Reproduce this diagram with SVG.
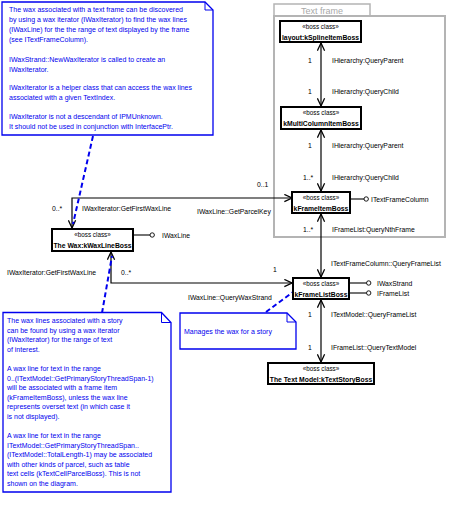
<svg xmlns="http://www.w3.org/2000/svg" width="462" height="511" viewBox="0 0 462 511">
<defs>
<style>
.bg{fill:#ffffff}
.box{fill:#ffffff;stroke:#000;stroke-width:2}
.st{font-family:"Liberation Sans",Arial,sans-serif;font-size:6.3px;fill:#000;text-anchor:middle}
.nm{font-family:"Liberation Sans",Arial,sans-serif;font-size:6.8px;font-weight:bold;fill:#000;text-anchor:middle}
.lb{font-family:"Liberation Sans",Arial,sans-serif;font-size:6.8px;fill:#000}
.nt{font-family:"Liberation Sans",Arial,sans-serif;font-size:7px;fill:#0000ee}
.note{fill:#ffffff;stroke:#0000ee;stroke-width:1.3}
.fold{fill:none;stroke:#0000ee;stroke-width:1}
.con{fill:none;stroke:#000;stroke-width:1.2;marker-start:url(#arr);marker-end:url(#arr)}
.lol{fill:none;stroke:#000;stroke-width:1.1}
.cir{fill:#ffffff;stroke:#000;stroke-width:0.9}
.anc{fill:none;stroke:#0000ee;stroke-width:2;stroke-dasharray:5,3}
.frame{fill:none;stroke:#b4b4b4;stroke-width:2}
.ftxt{font-family:"Liberation Sans",Arial,sans-serif;font-size:9px;fill:#a8a8a8;text-anchor:middle}
</style>
<marker id="arr" viewBox="0 0 10 10" refX="9.5" refY="5" markerWidth="9" markerHeight="9" markerUnits="userSpaceOnUse" orient="auto-start-reverse">
<path d="M1,1 L9.5,5 L1,9" fill="none" stroke="#000" stroke-width="1.4"/>
</marker>
</defs>
<rect class="bg" x="0" y="0" width="462" height="511"/>

<g id="textframe">
<rect x="274" y="4" width="96" height="12" fill="#fff" stroke="#b4b4b4" stroke-width="1.5"/>
<text class="ftxt" x="322" y="14">Text frame</text>
<rect class="frame" x="274" y="16" width="171" height="221"/>
</g>

<g id="connectors">
<line class="con" x1="321" y1="43" x2="321" y2="106"/>
<line class="con" x1="321" y1="130" x2="321" y2="191"/>
<line class="con" x1="321" y1="214" x2="321" y2="277"/>
<line class="con" x1="321" y1="300" x2="321" y2="362"/>
<polyline class="con" points="72,228 72,198 292,198"/>
<polyline class="con" points="111,252 111,283 292,283"/>
<line class="anc" x1="93" y1="136" x2="73" y2="224"/>
<line class="anc" x1="102" y1="313" x2="112" y2="256"/>
<line class="anc" x1="266" y1="312" x2="293" y2="292"/>
</g>

<g id="labels">
<text class="lb" x="308" y="62.5">1</text>
<text class="lb" x="332" y="62.5">IHierarchy:QueryParent</text>
<text class="lb" x="308" y="93.5">1</text>
<text class="lb" x="332" y="93.5">IHierarchy:QueryChild</text>
<text class="lb" x="308" y="147.5">1</text>
<text class="lb" x="332" y="147.5">IHierarchy:QueryParent</text>
<text class="lb" x="303" y="179.5">1..*</text>
<text class="lb" x="332" y="179.5">IHierarchy:QueryChild</text>
<text class="lb" x="303" y="231.5">1..*</text>
<text class="lb" x="332" y="231.5">IFrameList:QueryNthFrame</text>
<text class="lb" x="257" y="186.5">0..1</text>
<text class="lb" x="197" y="214">IWaxLine::GetParcelKey</text>
<text class="lb" x="52" y="210.5">0..*</text>
<text class="lb" x="82" y="210.5">IWaxIterator:GetFirstWaxLine</text>
<text class="lb" x="7" y="274.5">IWaxIterator:GetFirstWaxLine</text>
<text class="lb" x="121" y="274.5">0..*</text>
<text class="lb" x="273" y="271.5">1</text>
<text class="lb" x="188" y="299.5">IWaxLine::QueryWaxStrand</text>
<text class="lb" x="331" y="265.5">ITextFrameColumn::QueryFrameList</text>
<text class="lb" x="308" y="316.5">1</text>
<text class="lb" x="331" y="316.5">ITextModel::QueryFrameList</text>
<text class="lb" x="308" y="349.5">1</text>
<text class="lb" x="331" y="349.5">IFrameList::QueryTextModel</text>
</g>

<g id="kSplineItemBoss">
<rect class="box" x="280" y="21" width="81" height="21"/>
<text class="st" x="320.5" y="29">«boss class»</text>
<text class="nm" x="320.5" y="39.5">layout:kSplineItemBoss</text>
</g>

<g id="kMultiColumnItemBoss">
<rect class="box" x="281" y="107" width="80" height="22"/>
<text class="st" x="321" y="115">«boss class»</text>
<text class="nm" x="321" y="126">kMultiColumnItemBoss</text>
</g>

<g id="kFrameItemBoss">
<rect class="box" x="292" y="192" width="58" height="21"/>
<text class="st" x="321" y="200">«boss class»</text>
<text class="nm" x="321" y="210.5">kFrameItemBoss</text>
<line class="lol" x1="350" y1="199" x2="364" y2="199"/>
<circle class="cir" cx="366.2" cy="199" r="2.2"/>
<text class="lb" x="371" y="201.5">ITextFrameColumn</text>
</g>

<g id="kWaxLineBoss">
<rect class="box" x="52" y="229" width="81" height="22"/>
<text class="st" x="92.5" y="237">«boss class»</text>
<text class="nm" x="92.5" y="248">The Wax:kWaxLineBoss</text>
<line class="lol" x1="133" y1="235" x2="150" y2="235"/>
<circle class="cir" cx="152.2" cy="235" r="2.2"/>
<text class="lb" x="162" y="237.5">IWaxLine</text>
</g>

<g id="kFrameListBoss">
<rect class="box" x="293" y="278" width="56" height="21"/>
<text class="st" x="321" y="286">«boss class»</text>
<text class="nm" x="321" y="296.5">kFrameListBoss</text>
<line class="lol" x1="349" y1="283" x2="366.5" y2="283"/>
<circle class="cir" cx="368.7" cy="283" r="2.2"/>
<text class="lb" x="377" y="285.5">IWaxStrand</text>
<line class="lol" x1="349" y1="293" x2="366.5" y2="293"/>
<circle class="cir" cx="368.7" cy="293" r="2.2"/>
<text class="lb" x="377" y="295.5">IFrameList</text>
</g>

<g id="kTextStoryBoss">
<rect class="box" x="268" y="363" width="106" height="21"/>
<text class="st" x="321" y="371">«boss class»</text>
<text class="nm" x="321" y="381.5">The Text Model:kTextStoryBoss</text>
</g>

<g id="note1">
<path class="note" d="M2,2 H205 L213,10 V135 H2 Z"/>
<path class="fold" d="M205,2 V10 H213"/>
<text class="nt" x="9" y="12">The wax associated with a text frame can be discovered</text>
<text class="nt" x="9" y="22">by using a wax iterator (IWaxIterator) to find the wax lines</text>
<text class="nt" x="9" y="32">(IWaxLine) for the the range of text displayed by the frame</text>
<text class="nt" x="9" y="42">(see ITextFrameColumn).</text>
<text class="nt" x="9" y="62">IWaxStrand::NewWaxIterator is called to create an</text>
<text class="nt" x="9" y="72">IWaxIterator.</text>
<text class="nt" x="9" y="90">IWaxIterator is a helper class that can access the wax lines</text>
<text class="nt" x="9" y="100">associated with a given TextIndex.</text>
<text class="nt" x="9" y="119">IWaxIterator is not a descendant of IPMUnknown.</text>
<text class="nt" x="9" y="129">It should not be used in conjunction with InterfacePtr.</text>
</g>

<g id="note2">
<path class="note" d="M3,312.5 H161.5 L171,322.5 V492 H3 Z"/>
<path class="fold" d="M161.5,312.5 V322.5 H171"/>
<text class="nt" x="7" y="323">The wax lines associated with a story</text>
<text class="nt" x="7" y="332.5">can be found by using a wax iterator</text>
<text class="nt" x="7" y="342">(IWaxIterator) for the range of text</text>
<text class="nt" x="7" y="351.5">of interest.</text>
<text class="nt" x="7" y="371">A wax line for text in the range</text>
<text class="nt" x="7" y="380.5">0..(ITextModel::GetPrimaryStoryThreadSpan-1)</text>
<text class="nt" x="7" y="390">will be associated with a frame item</text>
<text class="nt" x="7" y="399.5">(kFrameItemBoss), unless the wax line</text>
<text class="nt" x="7" y="409">represents overset text (in which case it</text>
<text class="nt" x="7" y="418.5">is not displayed).</text>
<text class="nt" x="7" y="438">A wax line for text in the range</text>
<text class="nt" x="7" y="447.5">ITextModel::GetPrimaryStoryThreadSpan..</text>
<text class="nt" x="7" y="457">(ITextModel::TotalLength-1) may be associated</text>
<text class="nt" x="7" y="466.5">with other kinds of parcel, such as table</text>
<text class="nt" x="7" y="476">text cells (kTextCellParcelBoss). This is not</text>
<text class="nt" x="7" y="485.5">shown on the diagram.</text>
</g>

<g id="note3">
<path class="note" d="M180,313 H287 L296,322 V349 H180 Z"/>
<path class="fold" d="M287,313 V322 H296"/>
<text class="nt" x="184" y="333.5">Manages the wax for a story</text>
</g>
</svg>
